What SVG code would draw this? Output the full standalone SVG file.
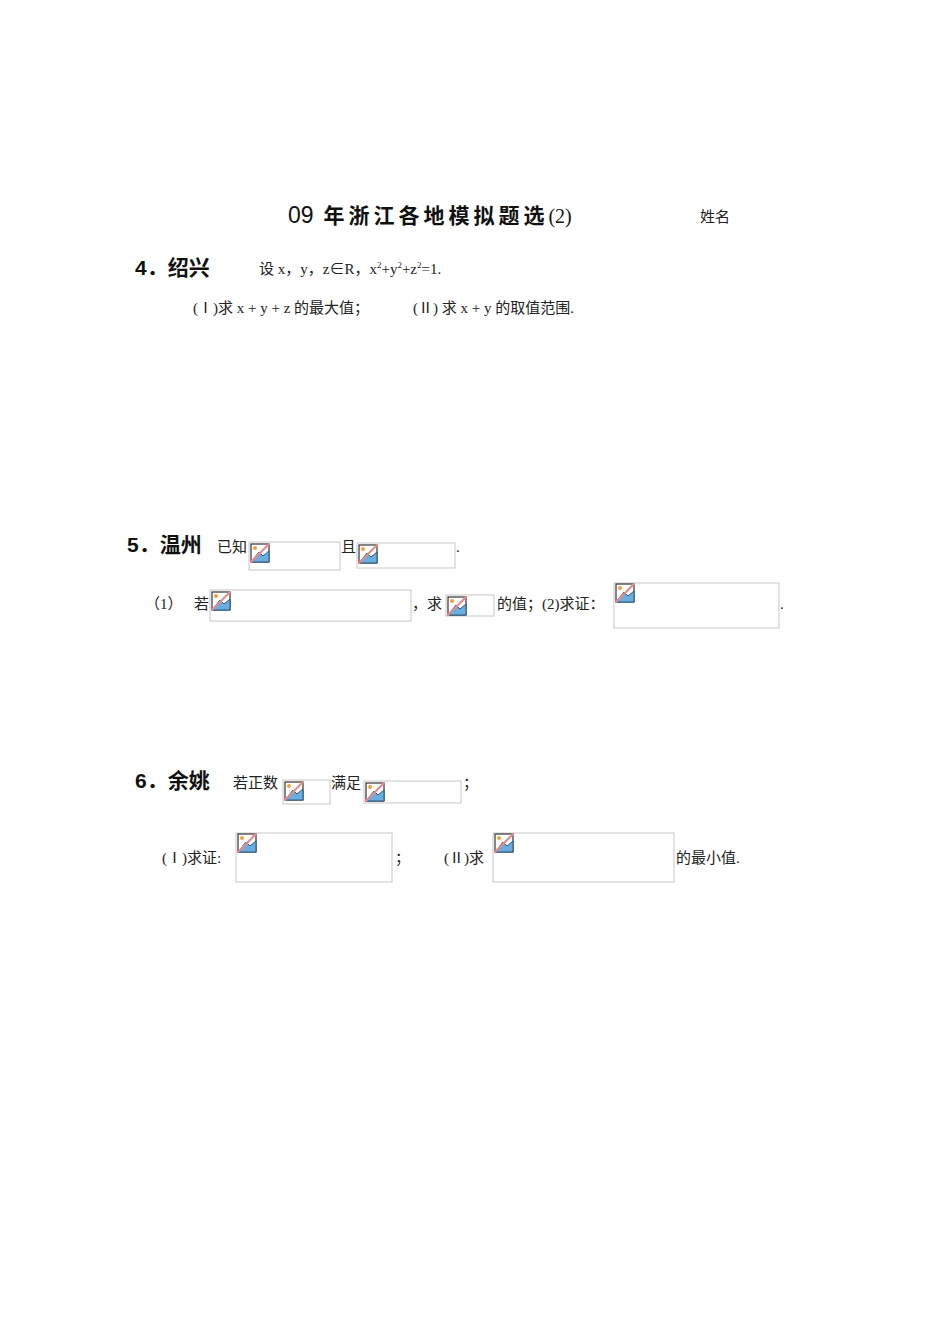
<svg xmlns="http://www.w3.org/2000/svg" xmlns:xlink="http://www.w3.org/1999/xlink" width="950" height="1344" viewBox="0 0 950 1344">
<style>
.s{font-family:"Liberation Serif","Noto Sans CJK SC",serif;font-size:15px;fill:#222}
.h{font-family:"Liberation Sans","Noto Sans CJK SC",sans-serif;font-size:21px;font-weight:bold;fill:#111}
.b{fill:#fff;stroke:#c8c8c8;stroke-width:1}
</style>
<defs>
<symbol id="ic" viewBox="0 0 20 20">
<rect x="1" y="1" width="18" height="18" fill="#fff" stroke="#333" stroke-width="1.2"/>
<path d="M1 19 L9 9 L13 13 L19 8 L19 19 Z" fill="#6aaee0" stroke="#2a5a80" stroke-width="1"/>
<circle cx="5" cy="5" r="2" fill="#f0a040"/>
<line x1="0" y1="20" x2="20" y2="0" stroke="#e88a8a" stroke-width="2"/>
</symbol>
</defs>
<rect width="950" height="1344" fill="#fff"/>
<g id="title">
<text x="288" y="223" font-family="Liberation Sans,Noto Sans CJK SC,sans-serif" font-size="23" fill="#111">09<tspan font-weight="bold" font-size="21" letter-spacing="4"> 年浙江各地模拟题选</tspan><tspan font-family="Liberation Serif,serif" font-size="20">(2)</tspan></text>
<text x="700" y="222" class="s">姓名</text>
</g>
<g id="q4">
<text x="135" y="275" class="h">4．绍兴</text>
<text x="259" y="274" class="s">设 x，y，z∈R，x<tspan font-size="9" dy="-6">2</tspan><tspan dy="6">+y</tspan><tspan font-size="9" dy="-6">2</tspan><tspan dy="6">+z</tspan><tspan font-size="9" dy="-6">2</tspan><tspan dy="6">=1.</tspan></text>
<text x="193" y="313" class="s">(Ⅰ)求 x + y + z 的最大值；</text>
<text x="413" y="313" class="s">(Ⅱ) 求 x + y 的取值范围.</text>
</g>
<g id="q5">
<text x="127" y="552" class="h">5．温州</text>
<text x="217" y="552" class="s">已知</text>
<rect x="249" y="542" width="91" height="28" class="b"/><use href="#ic" x="250" y="543" width="20" height="20"/>
<text x="341" y="552" class="s">且</text>
<rect x="357" y="543" width="98" height="25" class="b"/><use href="#ic" x="358" y="544" width="20" height="20"/>
<text x="456" y="552" class="s">.</text>
<text x="145" y="609" class="s">（1）</text>
<text x="194" y="609" class="s">若</text>
<rect x="210" y="590" width="201" height="31" class="b"/><use href="#ic" x="211" y="591" width="20" height="20"/>
<text x="412" y="609" class="s">，求</text>
<rect x="446" y="595" width="48" height="21" class="b"/><use href="#ic" x="447" y="596" width="20" height="20"/>
<text x="497" y="609" class="s">的值；(2)求证：</text>
<rect x="614" y="583" width="165" height="45" class="b"/><use href="#ic" x="615" y="583" width="20" height="20"/>
<text x="780" y="609" class="s">.</text>
</g>
<g id="q6">
<text x="135" y="788" class="h">6．余姚</text>
<text x="233" y="788" class="s">若正数</text>
<rect x="283" y="780" width="47" height="24" class="b"/><use href="#ic" x="284" y="781" width="20" height="20"/>
<text x="331" y="788" class="s">满足</text>
<rect x="364" y="781" width="97" height="22" class="b"/><use href="#ic" x="365" y="782" width="20" height="20"/>
<text x="463" y="788" class="s">；</text>
<text x="162" y="863" class="s">(Ⅰ)求证:</text>
<rect x="236" y="833" width="156" height="49" class="b"/><use href="#ic" x="237" y="833" width="20" height="20"/>
<text x="395" y="863" class="s">；</text>
<text x="444" y="863" class="s">(Ⅱ)求</text>
<rect x="493" y="833" width="181" height="49" class="b"/><use href="#ic" x="494" y="833" width="20" height="20"/>
<text x="676" y="863" class="s">的最小值.</text>
</g>
</svg>
